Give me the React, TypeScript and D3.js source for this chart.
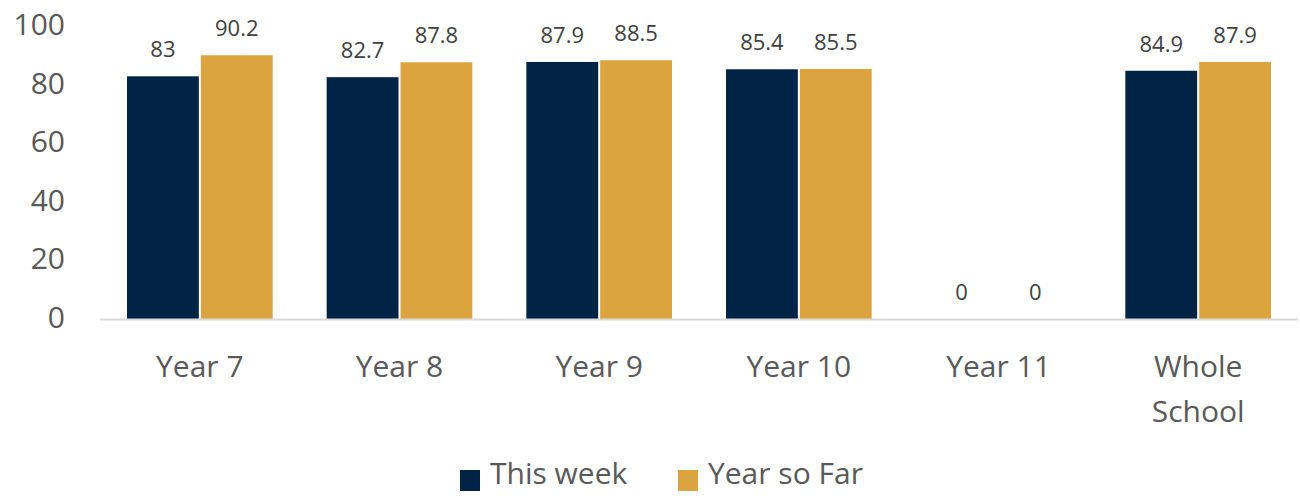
import React from 'react';
import * as d3 from 'd3';

const categories = ['Year 7', 'Year 8', 'Year 9', 'Year 10', 'Year 11', 'Whole School'];
const seriesNames = ['This week', 'Year so Far'];
const thisWeek = [83, 82.7, 87.9, 85.4, 0, 84.9];
const yearSoFar = [90.2, 87.8, 88.5, 85.5, 0, 87.9];
const yTicks = [0, 20, 40, 60, 80, 100];
const colors = ['#012345', '#DBA43F'];

const W = 1300;
const H = 496;
const FONT = '"Open Sans", "DejaVu Sans", sans-serif';

export default function App() {
  const x0 = d3.scaleBand<string>().domain(categories).range([100, 1298]);
  const x1 = d3
    .scaleBand<string>()
    .domain(seriesNames)
    .range([27, x0.bandwidth() - 27])
    .paddingInner(0.027);
  const y = d3.scaleLinear().domain([0, 100]).range([319, 26.6]);

  const values = [thisWeek, yearSoFar];

  return (
    <svg
      width={W}
      height={H}
      style={{ position: 'absolute', left: 0, top: 0, display: 'block', background: '#fff' }}
      fontFamily={FONT}
    >
      {/* y tick labels */}
      {yTicks.map(t => (
        <text
          key={t}
          x={65}
          y={y(t) - 3}
          textAnchor="end"
          dominantBaseline="central"
          fontSize={30}
          fill="#595959"
        >
          {t}
        </text>
      ))}

      {/* bars + value labels */}
      {categories.map((c, i) => (
        <g key={c} transform={`translate(${x0(c)},0)`}>
          {seriesNames.map((s, j) => {
            const v = values[j][i];
            const bx = x1(s) || 0;
            return (
              <g key={s}>
                {v > 0 && (
                  <rect x={bx} y={y(v)} width={x1.bandwidth()} height={y(0) - y(v)} fill={colors[j]} />
                )}
                <text
                  x={bx + x1.bandwidth() / 2}
                  y={y(v) - 28}
                  textAnchor="middle"
                  dominantBaseline="central"
                  fontSize={22}
                  fill="#404040"
                >
                  {v}
                </text>
              </g>
            );
          })}
        </g>
      ))}

      {/* x axis line */}
      <line x1={100} x2={1298} y1={319.5} y2={319.5} stroke="#d9d9d9" strokeWidth={2} />

      {/* category labels */}
      {categories.map(c => {
        const cx = (x0(c) || 0) + x0.bandwidth() / 2;
        const words = c === 'Whole School' ? ['Whole', 'School'] : [c];
        return (
          <text key={c} x={cx} textAnchor="middle" fontSize={30} fill="#595959">
            {words.map((w, k) => (
              <tspan key={w} x={cx} y={365 + k * 45} dominantBaseline="central">
                {w}
              </tspan>
            ))}
          </text>
        );
      })}

      {/* legend */}
      {seriesNames.map((s, j) => {
        const lx = j === 0 ? 460 : 678;
        return (
          <g key={s}>
            <rect x={lx} y={470} width={20} height={21} fill={colors[j]} />
            <text x={lx + 30} y={472} dominantBaseline="central" fontSize={30} fill="#595959">
              {s}
            </text>
          </g>
        );
      })}
    </svg>
  );
}
